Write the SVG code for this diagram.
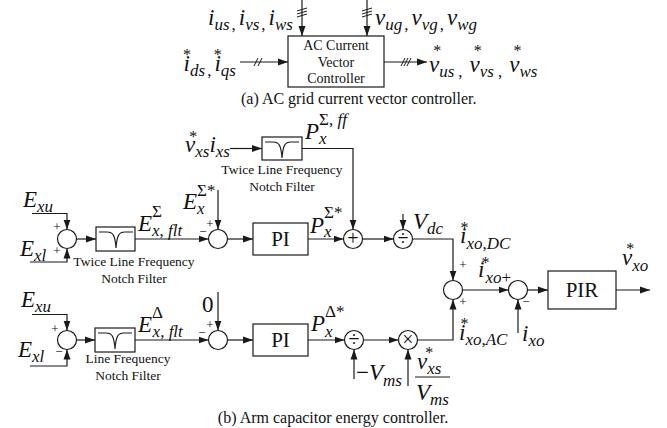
<svg xmlns="http://www.w3.org/2000/svg" width="667" height="428" viewBox="0 0 667 428">
<style>
.ln{fill:none;stroke:#1a1a1a;stroke-width:1.2}
.ar{marker-end:url(#ah)}
.bx{fill:#fff;stroke:#1a1a1a;stroke-width:1.2}
.cr{fill:#fff;stroke:#1a1a1a;stroke-width:1.2}
.m{font-family:"Liberation Serif",serif;font-style:italic;font-size:23px;fill:#111}
.sb{font-size:17px}
.up{font-style:normal}
.k{font-style:normal;font-size:16px}
.t{font-family:"Liberation Serif",serif;font-size:14px;fill:#111;text-anchor:middle}
.nf{font-family:"Liberation Serif",serif;font-size:13.5px;fill:#111;text-anchor:middle}
.sg{font-family:"Liberation Serif",serif;font-size:13px;fill:#111;text-anchor:middle}
.op{font-family:"Liberation Serif",serif;font-size:20px;fill:#111;text-anchor:middle}
.cap{font-family:"Liberation Serif",serif;font-size:16px;fill:#111}
.blk{font-family:"Liberation Serif",serif;font-size:21px;fill:#111;text-anchor:middle}
.sl{fill:none;stroke:#1a1a1a;stroke-width:1}
</style>
<defs>
<marker id="ah" markerWidth="10" markerHeight="8" refX="10" refY="4" orient="auto" markerUnits="userSpaceOnUse"><path d="M0,0.5 L10,4 L0,7.5 z" fill="#1a1a1a"/></marker>
<path id="notch" d="M3,5 H11 C17,5 19,8 20,21 C21,8 23,5 29,5 H37" fill="none" stroke="#1a1a1a" stroke-width="1.1"/>
</defs>

<!-- ===== (a) ===== -->
<g id="ac-controller">
<rect class="bx" x="288" y="36" width="96" height="51"/>
<text class="t" x="336" y="50">AC Current</text>
<text class="t" x="336" y="67">Vector</text>
<text class="t" x="336" y="83">Controller</text>
</g>
<g id="connectors-a">
<path class="ln ar" d="M302,0 V36"/>
<path class="sl" d="M297,11 L307,8 M297,14 L307,11 M297,17 L307,14"/>
<path class="ln ar" d="M367,0 V36"/>
<path class="sl" d="M362,11 L372,8 M362,14 L372,11 M362,17 L372,14"/>
<path class="ln ar" d="M240,62 H288"/>
<path class="sl" d="M254,66 L258,58 M258,66 L262,58"/>
<path class="ln ar" d="M384,62 H427"/>
<path class="sl" d="M401,66 L405,58 M404,66 L408,58 M407,66 L411,58"/>
</g>
<g id="labels-a">
<text class="m" x="208" y="25">i<tspan class="sb" dy="5">us</tspan><tspan class="sb up" dx="2">,</tspan><tspan dx="3" dy="-5">i</tspan><tspan class="sb" dy="5">vs</tspan><tspan class="sb up" dx="2">,</tspan><tspan dx="3" dy="-5">i</tspan><tspan class="sb" dy="5">ws</tspan></text>
<text class="m" x="375" y="25">v<tspan class="sb" dy="5">ug</tspan><tspan class="sb up" dx="2">,</tspan><tspan dx="3" dy="-5">v</tspan><tspan class="sb" dy="5">vg</tspan><tspan class="sb up" dx="2">,</tspan><tspan dx="3" dy="-5">v</tspan><tspan class="sb" dy="5">wg</tspan></text>
<text class="m" x="183" y="71">i<tspan class="k" dx="-7" dy="-11">*</tspan><tspan class="sb" dx="-1" dy="16">ds</tspan><tspan class="sb up" dx="2">,</tspan><tspan dx="3" dy="-5">i</tspan><tspan class="k" dx="-7" dy="-11">*</tspan><tspan class="sb" dx="-1" dy="16">qs</tspan></text>
<text class="m" x="429" y="72">v<tspan class="k" dx="-6" dy="-16">*</tspan><tspan class="sb" dx="-2" dy="21">us</tspan><tspan class="sb up" dx="4">,</tspan><tspan dx="7" dy="-5">v</tspan><tspan class="k" dx="-6" dy="-16">*</tspan><tspan class="sb" dx="-2" dy="21">vs</tspan><tspan class="sb up" dx="4">,</tspan><tspan dx="7" dy="-5">v</tspan><tspan class="k" dx="-6" dy="-16">*</tspan><tspan class="sb" dx="-2" dy="21">ws</tspan></text>
<text class="cap" x="241" y="104">(a) AC grid current vector controller.</text>
</g>

<!-- ===== (b) nodes ===== -->
<g id="sum-sigma">
<circle class="cr" cx="67" cy="239" r="9.5"/>
<text class="sg" x="57" y="231">+</text>
<text class="sg" x="57" y="255">+</text>
</g>
<g id="notch-sigma">
<rect class="bx" x="96" y="227" width="39" height="24"/>
<use href="#notch" x="96" y="227"/>
<text class="nf" x="134" y="266">Twice Line Frequency</text>
<text class="nf" x="134" y="283">Notch Filter</text>
</g>
<g id="sum-sigma-ref">
<circle class="cr" cx="218" cy="239" r="9.5"/>
<text class="sg" x="203" y="236">−</text>
<text class="sg" x="210" y="228">+</text>
</g>
<g id="pi-sigma">
<rect class="bx" x="253" y="223" width="55" height="32"/>
<text class="blk" x="280.5" y="246">PI</text>
</g>
<g id="notch-ff">
<rect class="bx" x="262" y="137" width="40" height="23"/>
<use href="#notch" x="262" y="137"/>
<text class="nf" x="282" y="174">Twice Line Frequency</text>
<text class="nf" x="282" y="191">Notch Filter</text>
</g>
<g id="add-ff">
<circle class="cr" cx="353" cy="239" r="9.5"/>
<text class="op" x="353" y="244.5">+</text>
</g>
<g id="div-dc">
<circle class="cr" cx="403" cy="239" r="9.5"/>
<text class="op" x="403" y="244.5">÷</text>
</g>
<g id="sum-current">
<circle class="cr" cx="453" cy="290" r="9.5"/>
<text class="sg" x="463" y="269">+</text>
<text class="sg" x="463" y="306">+</text>
</g>
<g id="sum-error">
<circle class="cr" cx="518" cy="290" r="9.5"/>
<text class="sg" x="526" y="306">−</text>
</g>
<g id="pir">
<rect class="bx" x="548" y="271" width="68" height="38"/>
<text class="blk" x="582" y="297">PIR</text>
</g>
<g id="sum-delta">
<circle class="cr" cx="67" cy="340" r="9.5"/>
<text class="sg" x="55" y="333">+</text>
<text class="sg" x="59" y="356">−</text>
</g>
<g id="notch-delta">
<rect class="bx" x="95" y="328" width="40" height="24"/>
<use href="#notch" x="95" y="328"/>
<text class="nf" x="128" y="363">Line Frequency</text>
<text class="nf" x="128" y="380">Notch Filter</text>
</g>
<g id="sum-delta-ref">
<circle class="cr" cx="218" cy="340" r="9.5"/>
<text class="sg" x="202" y="337">−</text>
<text class="sg" x="210" y="329">+</text>
</g>
<g id="pi-delta">
<rect class="bx" x="253" y="324" width="55" height="32"/>
<text class="blk" x="280.5" y="347">PI</text>
</g>
<g id="div-ms">
<circle class="cr" cx="354" cy="340" r="9.5"/>
<text class="op" x="354" y="345.5">÷</text>
</g>
<g id="mul-ac">
<circle class="cr" cx="408" cy="340" r="9.5"/>
<text class="op" x="408" y="345.5">×</text>
</g>

<!-- ===== (b) connectors ===== -->
<g id="connectors-b">
<path class="ln ar" d="M230,148.5 H262"/>
<path class="ln ar" d="M302,148.5 H353 V229.5"/>
<path class="ln ar" d="M32,213.5 H67 V229.5"/>
<path class="ln ar" d="M30,262 H67 V248.5"/>
<path class="ln ar" d="M76.5,239 H96"/>
<path class="ln ar" d="M135,239 H208.5"/>
<path class="ln ar" d="M218,190 V229.5"/>
<path class="ln ar" d="M227.5,239 H253"/>
<path class="ln ar" d="M308,239 H343.5"/>
<path class="ln ar" d="M362.5,239 H393.5"/>
<path class="ln ar" d="M403,214 V229.5"/>
<path class="ln ar" d="M412.5,239 H453 V280.5"/>
<path class="ln ar" d="M462.5,290 H508.5"/>
<path class="ln ar" d="M518,333 V299.5"/>
<path class="ln ar" d="M527.5,290 H548"/>
<path class="ln ar" d="M616,290 H650"/>
<path class="ln ar" d="M32,314.5 H67 V330.5"/>
<path class="ln ar" d="M30,366 H67 V349.5"/>
<path class="ln ar" d="M76.5,340 H95"/>
<path class="ln ar" d="M135,340 H208.5"/>
<path class="ln ar" d="M218,292 V330.5"/>
<path class="ln ar" d="M227.5,340 H253"/>
<path class="ln ar" d="M308,340 H344.5"/>
<path class="ln ar" d="M363.5,340 H398.5"/>
<path class="ln ar" d="M354,379 V349.5"/>
<path class="ln ar" d="M408,386 V349.5"/>
<path class="ln ar" d="M417.5,340 H453 V299.5"/>
<path class="ln" d="M415,377 H450"/>
</g>

<!-- ===== (b) labels ===== -->
<g id="labels-b">
<text class="m" x="185" y="152">v<tspan class="k" dx="-6" dy="-10">*</tspan><tspan class="sb" dx="-2" dy="15">xs</tspan><tspan dy="-5">i</tspan><tspan class="sb" dy="5">xs</tspan></text>
<text class="m" x="305" y="139">P<tspan class="sb" dy="5">x</tspan><tspan class="sb up" dx="-7.5" dy="-19">Σ, </tspan><tspan class="sb">ff</tspan></text>

<text class="m" x="23" y="207">E<tspan class="sb" dy="5">xu</tspan></text>
<text class="m" x="20" y="256">E<tspan class="sb" dy="5">xl</tspan></text>
<text class="m" x="138" y="231">E<tspan class="sb up" dy="-14">Σ</tspan><tspan class="sb" dx="-10" dy="19">x</tspan><tspan class="sb up">, </tspan><tspan class="sb">flt</tspan></text>
<text class="m" x="183" y="209">E<tspan class="sb" dy="5">x</tspan><tspan class="sb up" dx="-7.5" dy="-18">Σ*</tspan></text>
<text class="m" x="310" y="233">P<tspan class="sb" dy="4">x</tspan><tspan class="sb up" dx="-7.5" dy="-19">Σ*</tspan></text>
<text class="m" x="413" y="229">V<tspan class="sb" dy="5">dc</tspan></text>
<text class="m" x="460" y="243">i<tspan class="k" dx="-6" dy="-10">*</tspan><tspan class="sb" dx="-2" dy="16">xo</tspan><tspan class="sb up">,</tspan><tspan class="sb">DC</tspan></text>
<text class="m" x="478" y="277">i<tspan class="k" dx="-3" dy="-9">*</tspan><tspan class="sb" dx="-4" dy="15">xo</tspan><tspan class="sb up">+</tspan></text>
<text class="m" x="522" y="341">i<tspan class="sb" dy="5">xo</tspan></text>
<text class="m" x="622" y="265">v<tspan class="k" dx="-6" dy="-11">*</tspan><tspan class="sb" dx="-2" dy="17">xo</tspan></text>

<text class="m" x="21" y="307">E<tspan class="sb" dy="5">xu</tspan></text>
<text class="m" x="18" y="357">E<tspan class="sb" dy="5">xl</tspan></text>
<text class="m" x="138" y="332">E<tspan class="sb up" dy="-14">Δ</tspan><tspan class="sb" dx="-10.4" dy="19">x</tspan><tspan class="sb up">, </tspan><tspan class="sb">flt</tspan></text>
<text class="m up" x="202" y="312">0</text>
<text class="m" x="311" y="331">P<tspan class="sb" dy="6">x</tspan><tspan class="sb up" dx="-7.5" dy="-20">Δ*</tspan></text>
<text class="m" x="356" y="380"><tspan class="up">−</tspan>V<tspan class="sb" dy="6">ms</tspan></text>
<text class="m" x="417" y="369">v<tspan class="k" dx="-2" dy="-11">*</tspan><tspan class="sb" dx="-6" dy="16">xs</tspan></text>
<text class="m" x="416" y="400">V<tspan class="sb" dy="5">ms</tspan></text>
<text class="m" x="459" y="340">i<tspan class="k" dx="-5" dy="-11">*</tspan><tspan class="sb" dx="-3" dy="16">xo</tspan><tspan class="sb up">,</tspan><tspan class="sb">AC</tspan></text>
<text class="cap" x="333" y="423" text-anchor="middle">(b) Arm capacitor energy controller.</text>
</g>
</svg>
